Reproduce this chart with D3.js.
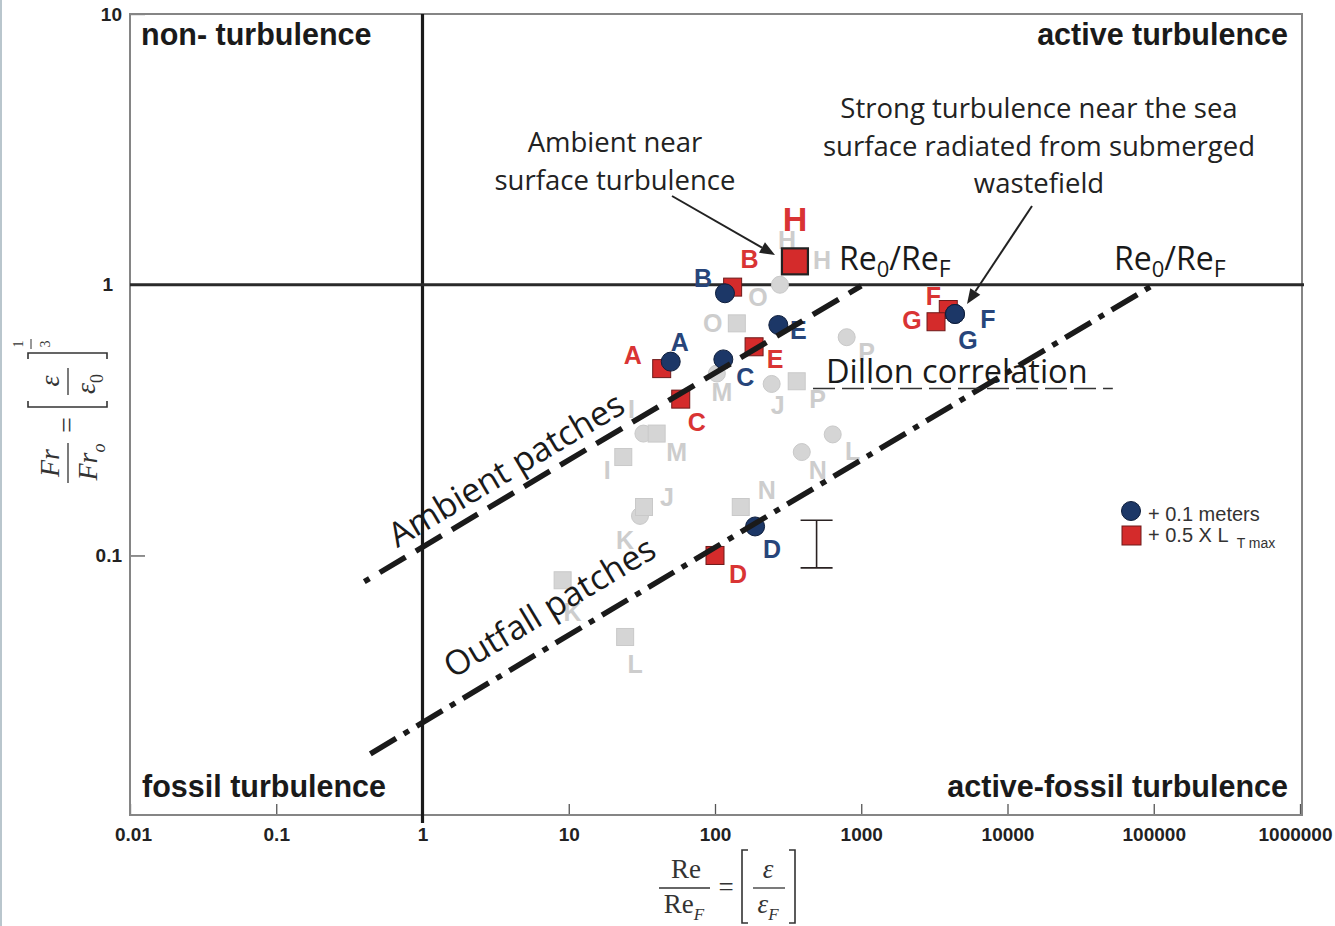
<!DOCTYPE html>
<html><head><meta charset="utf-8">
<script src="https://cdn.jsdelivr.net/npm/d3@7"></script>
<style>body{margin:0;background:#fff} svg{display:block}</style>
</head><body>
<svg id="c" width="1335" height="926"></svg>
<script>
// ---------- data ----------
const xTicks = [0.01, 0.1, 1, 10, 100, 1000, 10000, 100000, 1000000];
const yTicks = [0.1, 1, 10];

const blueIds = ["A", "B", "C", "D", "E", "F", "G"];
const blueX = [49.8, 117, 114, 188, 271, 4375, 4375];
const blueY = [0.52, 0.93, 0.53, 0.128, 0.71, 0.78, 0.78];

const redIds = ["A", "B", "C", "D", "E", "F", "G", "H"];
const redX = [43.2, 132, 58.3, 100, 185, 3936, 3245, 352];
const redY = [0.49, 0.98, 0.378, 0.1, 0.59, 0.81, 0.73, 1.22];

const grayCircleIds = ["O", "P", "J", "M", "I", "K", "N", "L", "H"];
const grayCircleX = [278, 795, 244, 103, 32.4, 30.7, 392, 638, 326];
const grayCircleY = [1.0, 0.64, 0.43, 0.47, 0.282, 0.14, 0.241, 0.28, 1.196];

const graySquareIds = ["O", "P", "M", "I", "J", "N", "K", "L", "H"];
const graySquareX = [141, 362, 39.9, 23.6, 32.7, 150, 9.08, 24.3, 381];
const graySquareY = [0.72, 0.44, 0.282, 0.231, 0.151, 0.151, 0.081, 0.05, 1.237];

const ambientX = [0.4, 1000];
const ambientY = [0.08, 0.99];
const outfallX = [0.44, 100000];
const outfallY = [0.0185, 1.0];
const dillonX = [468, 52500];
const dillonY = [0.414, 0.414];
const errX = 495, errLow = 0.09, errHigh = 0.135;

// ---------- layout (label offsets in px) ----------
const labelOffset = {
  blue: {A:[9,-20], B:[-22,-15], C:[22,18], D:[17,23], E:[20,5], F:[33,5], G:[13,26]},
  red: {A:[-29,-14], B:[17,-28], C:[16,23], D:[23,19], E:[21,12], F:[-15,-14], G:[-24,-2], H:[0,-42]},
  grayC: {O:[-22,12], P:[20,15], J:[6,21], M:[5,18], I:[-12,-25], K:[-15,24], N:[16,18], L:[20,17], H:[-3,-24]},
  grayS: {O:[-24,0], P:[21,18], M:[20,18], I:[-16,13], J:[23,-10], N:[26,-17], K:[10,32], L:[10,27], H:[22,0]}
};

const W = 1335, H = 926;
const SANS = "Liberation Sans, Arial, Helvetica, sans-serif";
const HUM = "Open Sans, Noto Sans, sans-serif";
const SERIF = "Liberation Serif, Times New Roman, serif";
const BLUE = "#1c3767", RED = "#d42b2b", GRAY = "#d5d5d5", GRAYTXT = "#cdcdcd";

const svg = d3.select("#c");
const x = d3.scaleLog().domain([0.01, 1e6]).range([130, 1300]);
const y = d3.scaleLog().domain([0.011, 10]).range([815, 14]);
const [x0, x1] = x.range();
const [yb, yt] = y.range();

svg.append("rect").attr("width", W).attr("height", H).attr("fill", "#fff");
svg.append("rect").attr("x", 0).attr("y", 0).attr("width", 2).attr("height", H).attr("fill", "#b9c6cd");

// axes
const gx = svg.append("g").attr("transform", `translate(0,${yb})`)
  .call(d3.axisBottom(x).tickValues(xTicks).tickSize(-11).tickPadding(13).tickFormat(d => String(d)));
gx.select(".domain").remove();
gx.selectAll(".tick line").attr("stroke", "#555").attr("stroke-width", 1.3);
gx.selectAll("text").attr("font-family", SANS).attr("font-weight", "bold").attr("font-size", 19).attr("fill", "#222")
  .attr("dx", d => d === 1000000 ? -5 : (d === 0.01 ? 3 : 0));

const gy = svg.append("g").attr("transform", `translate(${x0},0)`)
  .call(d3.axisLeft(y).tickValues(yTicks).tickSize(-15).tickPadding(8).tickFormat(d => String(d)));
gy.select(".domain").remove();
gy.selectAll(".tick line").attr("stroke", "#555").attr("stroke-width", 1.3);
gy.selectAll("text").attr("font-family", SANS).attr("font-weight", "bold").attr("font-size", 19).attr("fill", "#222")
  .attr("dx", d => d === 1 ? -9 : 0);

// frame
svg.append("rect").attr("x", x0).attr("y", yt).attr("width", x1 - x0 + 2).attr("height", yb - yt)
  .attr("fill", "none").attr("stroke", "#858585").attr("stroke-width", 2);

// reference lines
svg.append("line").attr("x1", x(1)).attr("x2", x(1)).attr("y1", yt).attr("y2", yb + 8)
  .attr("stroke", "#1a1a1a").attr("stroke-width", 3.2);
svg.append("line").attr("x1", x0).attr("x2", x1 + 4).attr("y1", y(1)).attr("y2", y(1))
  .attr("stroke", "#2a2a2a").attr("stroke-width", 3);

// corner labels
function corner(t, px, py, anchor) {
  svg.append("text").attr("x", px).attr("y", py).attr("text-anchor", anchor)
    .attr("font-family", SANS).attr("font-weight", "bold").attr("font-size", 30.5).attr("fill", "#1a1a1a").text(t);
}
corner("non- turbulence", 141, 45, "start");
corner("active turbulence", 1288, 45, "end");
corner("fossil turbulence", 142, 797, "start");
corner("active-fossil turbulence", 1288, 797, "end");

// helpers
function pts(ids, xs, ys) { return ids.map((id, i) => ({id, x: xs[i], y: ys[i]})); }
function letters(data, offs, color, size) {
  svg.append("g").selectAll("text").data(data).join("text")
    .attr("x", d => x(d.x) + offs[d.id][0]).attr("y", d => y(d.y) + offs[d.id][1])
    .attr("text-anchor", "middle").attr("dominant-baseline", "central")
    .attr("font-family", SANS).attr("font-weight", "bold")
    .attr("font-size", d => (typeof size === "function" ? size(d) : size)).attr("fill", color).text(d => d.id);
}

const grayC = pts(grayCircleIds, grayCircleX, grayCircleY);
const grayS = pts(graySquareIds, graySquareX, graySquareY);
const reds = pts(redIds, redX, redY);
const blues = pts(blueIds, blueX, blueY);

// gray
letters(grayC, labelOffset.grayC, GRAYTXT, 25);
letters(grayS, labelOffset.grayS, GRAYTXT, 25);
svg.append("g").selectAll("circle").data(grayC).join("circle")
  .attr("cx", d => x(d.x)).attr("cy", d => y(d.y)).attr("r", 8.5)
  .attr("fill", GRAY).attr("stroke", "#c9c9c9").attr("stroke-width", 1);
svg.append("g").selectAll("rect").data(grayS).join("rect")
  .attr("x", d => x(d.x) - 8.5).attr("y", d => y(d.y) - 8.5).attr("width", 17).attr("height", 17)
  .attr("fill", GRAY).attr("stroke", "#c9c9c9").attr("stroke-width", 1);

// red squares
svg.append("g").selectAll("rect").data(reds).join("rect")
  .each(function(d) {
    const s = d.id === "H" ? 26 : 18;
    d3.select(this).attr("x", x(d.x) - s / 2).attr("y", y(d.y) - s / 2).attr("width", s).attr("height", s)
      .attr("stroke", d.id === "H" ? "#222" : "#6e1a1a").attr("stroke-width", d.id === "H" ? 2.2 : 1);
  })
  .attr("fill", RED);

// blue circles
svg.append("g").selectAll("circle").data(blues).join("circle")
  .attr("cx", d => x(d.x)).attr("cy", d => y(d.y)).attr("r", 9.5)
  .attr("fill", BLUE).attr("stroke", "#0e1e3c").attr("stroke-width", 1);

letters(reds, labelOffset.red, "#d93434", d => d.id === "H" ? 34 : 25);
letters(blues, labelOffset.blue, "#27457a", 25);

// diagonal lines
const lineGen = d3.line().x(d => x(d[0])).y(d => y(d[1]));
svg.append("path").attr("d", lineGen(ambientX.map((v, i) => [v, ambientY[i]])))
  .attr("fill", "none").attr("stroke", "#1a1a1a").attr("stroke-width", 5.5)
  .attr("stroke-dasharray", "30,12").attr("stroke-dashoffset", 24);
svg.append("path").attr("d", lineGen(outfallX.map((v, i) => [v, outfallY[i]])))
  .attr("fill", "none").attr("stroke", "#1a1a1a").attr("stroke-width", 5.5)
  .attr("stroke-dasharray", "30,9,6,9");
svg.append("path").attr("d", lineGen(dillonX.map((v, i) => [v, dillonY[i]])))
  .attr("fill", "none").attr("stroke", "#333").attr("stroke-width", 1.6)
  .attr("stroke-dasharray", "22,7");

// error bar
const ex = x(errX), eT = y(errHigh), eB = y(errLow);
const eg = svg.append("g").attr("stroke", "#2a2222").attr("stroke-width", 1.6);
eg.append("line").attr("x1", ex).attr("x2", ex).attr("y1", eT).attr("y2", eB);
eg.append("line").attr("x1", ex - 16).attr("x2", ex + 16).attr("y1", eT).attr("y2", eT);
eg.append("line").attr("x1", ex - 16).attr("x2", ex + 16).attr("y1", eB).attr("y2", eB);

// rotated line labels
function lineLabel(text, xs, ys, atX, off) {
  const ax = x(xs[0]), ay = y(ys[0]), bx = x(xs[1]), by = y(ys[1]);
  const ang = Math.atan2(by - ay, bx - ax);
  const px = x(atX), py = ay + (by - ay) * (px - ax) / (bx - ax);
  const nx = Math.sin(ang), ny = -Math.cos(ang);
  svg.append("text").attr("transform", `translate(${px + off * nx},${py + off * ny}) rotate(${ang * 180 / Math.PI})`)
    .attr("font-family", HUM).attr("font-size", 34).attr("fill", "#1a1a1a").text(text);
}
lineLabel("Ambient patches", ambientX, ambientY, 0.74, 12);
lineLabel("Outfall patches", outfallX, outfallY, 1.92, 22);

// Dillon text
svg.append("text").attr("x", 826).attr("y", 383).attr("font-family", HUM).attr("font-size", 32.5)
  .attr("fill", "#1a1a1a").text("Dillon correlation");

// Re0/ReF labels
function reLabel(px, py) {
  const t = svg.append("text").attr("x", px).attr("y", py).attr("font-family", HUM).attr("font-size", 32).attr("fill", "#1a1a1a");
  t.append("tspan").text("Re");
  t.append("tspan").attr("font-size", 22).attr("dy", 7).text("0");
  t.append("tspan").attr("dy", -7).text("/Re");
  t.append("tspan").attr("font-size", 23).attr("dy", 7).text("F");
}
reLabel(839, 270);
reLabel(1114, 270);

// annotations
function ann(lines, cx, y0, lh) {
  lines.forEach((l, i) => svg.append("text").attr("x", cx).attr("y", y0 + i * lh).attr("text-anchor", "middle")
    .attr("font-family", HUM).attr("font-size", 27.5).attr("fill", "#222").text(l));
}
ann(["Ambient near", "surface turbulence"], 615, 152, 38);
ann(["Strong turbulence near the sea", "surface radiated from submerged", "wastefield"], 1039, 118, 37.5);

function arrow(xa, ya, xb, yb2) {
  const a = Math.atan2(yb2 - ya, xb - xa), L = 15, w = 6;
  const bx = xb - L * Math.cos(a), by = yb2 - L * Math.sin(a);
  svg.append("line").attr("x1", xa).attr("y1", ya).attr("x2", bx).attr("y2", by).attr("stroke", "#222").attr("stroke-width", 2);
  svg.append("path").attr("d", `M${xb},${yb2}L${bx - w * Math.sin(a)},${by + w * Math.cos(a)}L${bx + w * Math.sin(a)},${by - w * Math.cos(a)}Z`).attr("fill", "#222");
}
arrow(672, 196, 775, 255);
arrow(1032, 206, 967, 304);

// legend
svg.append("circle").attr("cx", 1131).attr("cy", 511).attr("r", 9.5).attr("fill", BLUE).attr("stroke", "#0e1e3c");
svg.append("rect").attr("x", 1122).attr("y", 526).attr("width", 19).attr("height", 19).attr("fill", RED).attr("stroke", "#6e1a1a");
svg.append("text").attr("x", 1148).attr("y", 521).attr("font-family", SANS).attr("font-size", 20).attr("fill", "#333").text("+ 0.1 meters");
const lt = svg.append("text").attr("x", 1148).attr("y", 542).attr("font-family", SANS).attr("font-size", 20).attr("fill", "#333");
lt.append("tspan").text("+ 0.5 X L");
lt.append("tspan").attr("font-size", 14).attr("dx", 8).attr("dy", 6).text("T max");

// y-axis title (rotated)
const yl = svg.append("g").attr("transform", "translate(68,412) rotate(-90)")
  .attr("font-family", SERIF).attr("fill", "#333");
yl.append("line").attr("x1", -71).attr("x2", -31).attr("y1", 0).attr("y2", 0).attr("stroke", "#333").attr("stroke-width", 1.3);
yl.append("text").attr("x", -51).attr("y", -9).attr("text-anchor", "middle").attr("font-style", "italic").attr("font-size", 28).text("Fr");
const yden = yl.append("text").attr("x", -50).attr("y", 29).attr("text-anchor", "middle").attr("font-style", "italic").attr("font-size", 28);
yden.append("tspan").text("Fr");
yden.append("tspan").attr("font-size", 18).attr("dy", 8).text("o");
yl.append("text").attr("x", -13).attr("y", 8).attr("text-anchor", "middle").attr("font-size", 28).text("=");
yl.append("path").attr("d", "M11,-40H5V39H11M53,-40H59V39H53").attr("fill", "none").attr("stroke", "#333").attr("stroke-width", 1.6);
yl.append("line").attr("x1", 17).attr("x2", 44).attr("y1", 0).attr("y2", 0).attr("stroke", "#333").attr("stroke-width", 1.3);
yl.append("text").attr("x", 31).attr("y", -9).attr("text-anchor", "middle").attr("font-style", "italic").attr("font-size", 28).text("ε");
const yed = yl.append("text").attr("x", 28).attr("y", 27).attr("text-anchor", "middle").attr("font-style", "italic").attr("font-size", 28);
yed.append("tspan").text("ε");
yed.append("tspan").attr("font-style", "normal").attr("font-size", 18).attr("dy", 8).text("0");
yl.append("text").attr("x", 68).attr("y", -45).attr("text-anchor", "middle").attr("font-size", 14).text("1");
yl.append("line").attr("x1", 63).attr("x2", 73).attr("y1", -37).attr("y2", -37).attr("stroke", "#333").attr("stroke-width", 1);
yl.append("text").attr("x", 68).attr("y", -18).attr("text-anchor", "middle").attr("font-size", 14).text("3");

// x-axis title
const xl = svg.append("g").attr("font-family", SERIF).attr("fill", "#333");
xl.append("text").attr("x", 686).attr("y", 878).attr("text-anchor", "middle").attr("font-size", 27).text("Re");
xl.append("line").attr("x1", 659).attr("x2", 710).attr("y1", 888).attr("y2", 888).attr("stroke", "#333").attr("stroke-width", 1.3);
const xden = xl.append("text").attr("x", 684).attr("y", 913).attr("text-anchor", "middle").attr("font-size", 27);
xden.append("tspan").text("Re");
xden.append("tspan").attr("font-style", "italic").attr("font-size", 17).attr("dy", 7).text("F");
xl.append("text").attr("x", 726).attr("y", 896).attr("text-anchor", "middle").attr("font-size", 27).text("=");
xl.append("path").attr("d", "M748,850H742V923H748M789,850H795V923H789").attr("fill", "none").attr("stroke", "#333").attr("stroke-width", 1.6);
xl.append("text").attr("x", 768).attr("y", 878).attr("text-anchor", "middle").attr("font-style", "italic").attr("font-size", 27).text("ε");
xl.append("line").attr("x1", 753).attr("x2", 785).attr("y1", 888).attr("y2", 888).attr("stroke", "#333").attr("stroke-width", 1.3);
const xed = xl.append("text").attr("x", 768).attr("y", 913).attr("text-anchor", "middle").attr("font-style", "italic").attr("font-size", 27);
xed.append("tspan").text("ε");
xed.append("tspan").attr("font-size", 17).attr("dy", 7).text("F");
</script>
</body></html>
